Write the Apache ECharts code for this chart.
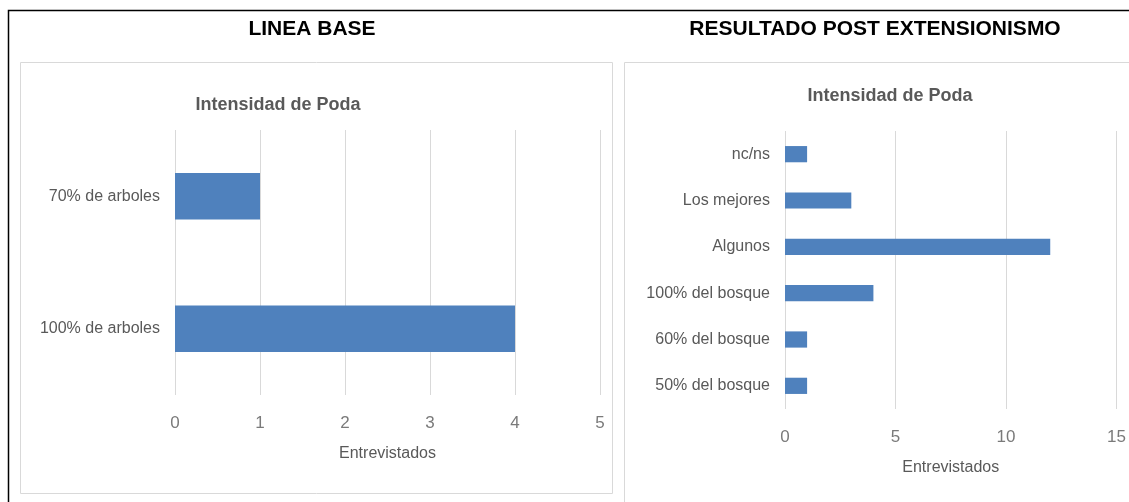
<!DOCTYPE html>
<html><head><meta charset="utf-8">
<script src="https://cdn.jsdelivr.net/npm/echarts@6/dist/echarts.min.js"></script>
<style>html,body{margin:0;padding:0;background:#fff}#c{width:1129px;height:502px}</style>
</head><body><div id="c"></div>
<script>
const leftCategories = ["70% de arboles", "100% de arboles"];
const leftValues = [1, 4];
const rightCategories = ["nc/ns", "Los mejores", "Algunos", "100% del bosque", "60% del bosque", "50% del bosque"];
const rightValues = [1, 3, 12, 4, 1, 1];
const mainTitles = ["LINEA BASE", "RESULTADO POST EXTENSIONISMO"];
const chartTitle = "Intensidad de Poda";
const axisName = "Entrevistados";

const barColor = "#4f81bd";
const grey = "#595959";
const lightGrey = "#7a7a7a";
const font = "Liberation Sans, Arial, sans-serif";

const chart = echarts.init(document.getElementById('c'));
function xAx(idx, max, interval) {
  return {
    type: 'value', gridIndex: idx, min: 0, max: max, interval: interval,
    axisLine: {show: false}, axisTick: {show: false},
    splitLine: {lineStyle: {color: '#d9d9d9', width: 1}},
    axisLabel: {color: lightGrey, fontSize: 17, fontFamily: font, margin: 20},
    name: axisName, nameLocation: 'middle', nameGap: 51,
    nameTextStyle: {color: grey, fontSize: 16, fontFamily: font}
  };
}
function yAx(idx, cats) {
  return {
    type: 'category', gridIndex: idx, data: cats, inverse: true,
    axisLine: {show: false}, axisTick: {show: false},
    axisLabel: {color: grey, fontSize: 16, fontFamily: font, margin: 15}
  };
}
chart.setOption({
  animation: false,
  title: [
    {text: mainTitles[0], left: 307, top: 14, textAlign: 'center',
     textStyle: {fontSize: 21, fontWeight: 'bold', color: '#000', fontFamily: font}},
    {text: mainTitles[1], left: 870, top: 14, textAlign: 'center',
     textStyle: {fontSize: 21, fontWeight: 'bold', color: '#000', fontFamily: font}},
    {text: chartTitle, left: 273, top: 91, textAlign: 'center',
     textStyle: {fontSize: 18, fontWeight: 'bold', color: grey, fontFamily: font}},
    {text: chartTitle, left: 885, top: 82, textAlign: 'center',
     textStyle: {fontSize: 18, fontWeight: 'bold', color: grey, fontFamily: font}}
  ],
  graphic: [
    {type: 'rect', shape: {x: 8.5, y: 10.5, width: 1140, height: 500}, style: {fill: 'none', stroke: '#000', lineWidth: 1.5}},
    {type: 'rect', shape: {x: 20.5, y: 62.5, width: 592, height: 431}, style: {fill: 'none', stroke: '#d9d9d9', lineWidth: 1}},
    {type: 'rect', shape: {x: 624.5, y: 62.5, width: 520, height: 460}, style: {fill: 'none', stroke: '#d9d9d9', lineWidth: 1}}
  ],
  grid: [
    {left: 175, top: 130, width: 425, height: 265},
    {left: 785, top: 131, width: 333, height: 278}
  ],
  xAxis: [xAx(0, 5, 1), xAx(1, 15, 5)],
  yAxis: [yAx(0, leftCategories), yAx(1, rightCategories)],
  series: [
    {type: 'bar', xAxisIndex: 0, yAxisIndex: 0, data: leftValues, barCategoryGap: '65%', itemStyle: {color: barColor}},
    {type: 'bar', xAxisIndex: 1, yAxisIndex: 1, data: rightValues, barCategoryGap: '65%', itemStyle: {color: barColor}}
  ]
});
</script></body></html>
